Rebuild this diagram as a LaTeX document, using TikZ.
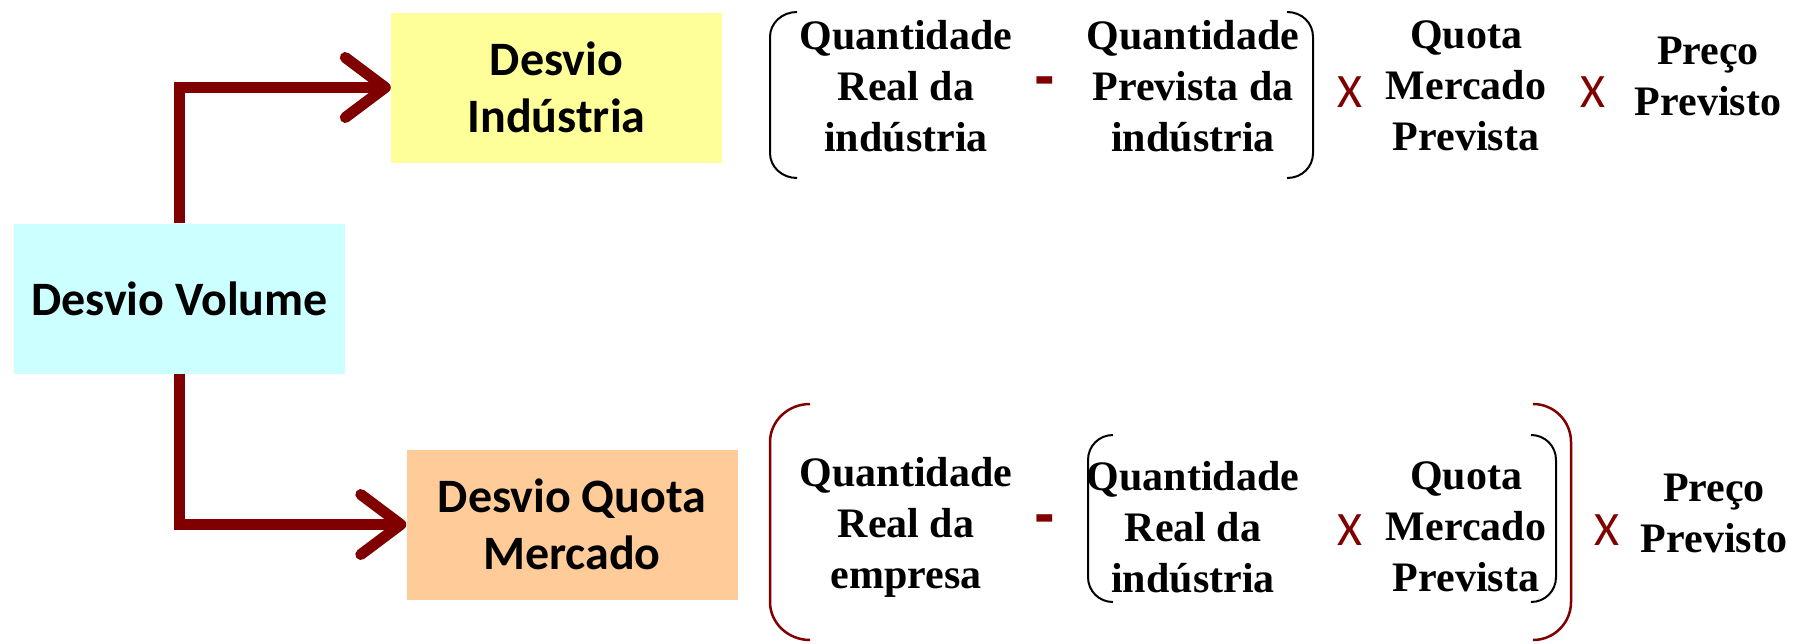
\documentclass[tikz,border=0pt]{standalone}
\usepackage{fontspec}
\setmainfont{Liberation Serif}
\newfontfamily\calfont{Carlito}
\newfontfamily\arialfont{Liberation Sans}
\usetikzlibrary{arrows.meta}
\definecolor{dred}{HTML}{800000}
\definecolor{cyanbox}{HTML}{CCFFFF}
\definecolor{yelbox}{HTML}{FFFF99}
\definecolor{orgbox}{HTML}{FFCC99}
\begin{document}
\begin{tikzpicture}[x=1pt,y=-1pt,
  box/.style={minimum width=331pt, minimum height=150pt, inner sep=0pt, align=center,
    font=\calfont\bfseries\fontsize{48}{57}\selectfont},
  conn/.style={draw=dred, line width=11pt, -{Straight Barb[length=40pt,width=60pt,round]}},
  term/.style={align=center, inner sep=0pt, font=\bfseries\fontsize{42}{51}\selectfont},
  op/.style={text=dred, inner sep=0pt, font=\calfont\fontsize{48}{48}\selectfont},
  minusop/.style={text=dred, inner sep=0pt, anchor=base, font=\arialfont\bfseries\fontsize{62}{62}\selectfont},
  brk/.style={line width=2pt},
  rbrk/.style={draw=dred, line width=2.5pt},
]
\useasboundingbox (0,0) rectangle (1803,643);
% boxes
\node[box, fill=cyanbox] (dv) at (179.5,298.5) {Desvio Volume};
\node[box, fill=yelbox] (di) at (556.5,87.5) {Desvio\\Indústria};
\node[box, fill=orgbox] (dq) at (572,524.5) {Desvio Quota\\Mercado};
% connectors
\draw[conn] (dv.north) |- (di.west);
\draw[conn] (dv.south) |- (dq.west);
% top formula
\node[term] (q1) at (906,86) {Quantidade\\Real da\\indústria};
\node[minusop] (m1) at (1045,96) {-};
\node[term] (q2) at (1193,86) {Quantidade\\Prevista da\\indústria};
\node[op] (x1) at (1350,92) {X};
\node[term] (qm1) at (1466,86) {Quota\\Mercado\\Prevista};
\node[op] (x2) at (1593,92) {X};
\node[term] (p1) at (1708,76) {Preço\\Previsto};
\draw[brk] (797,12) .. controls (782,12) and (770,23) .. (770,37) -- (770,153) .. controls (770,167) and (782,178) .. (797,178);
\draw[brk] (1287,12) .. controls (1302,12) and (1313,23) .. (1313,37) -- (1313,153) .. controls (1313,167) and (1302,178) .. (1287,178);
% bottom formula
\node[term] (q3) at (906,527) {Quantidade\\Real da\\empresa};
\node[minusop] (m2) at (1045,534) {-};
\node[term] (q4) at (1193,527) {Quantidade\\Real da\\indústria};
\node[op] (x3) at (1350,530) {X};
\node[term] (qm2) at (1466,527) {Quota\\Mercado\\Prevista};
\node[op] (x4) at (1607,530) {X};
\node[term] (p2) at (1714,513) {Preço\\Previsto};
\draw[rbrk] (810,404) .. controls (788,404) and (770,421) .. (770,442) -- (770,602) .. controls (770,623) and (788,640) .. (810,640);
\draw[rbrk] (1533,404) .. controls (1554,404) and (1571,421) .. (1571,442) -- (1571,602) .. controls (1571,623) and (1554,640) .. (1533,640);
\draw[brk] (1113,435) .. controls (1099,435) and (1088,446) .. (1088,460) -- (1088,577) .. controls (1088,591) and (1099,602) .. (1113,602);
\draw[brk] (1531,435) .. controls (1545,435) and (1556,446) .. (1556,460) -- (1556,577) .. controls (1556,591) and (1545,602) .. (1531,602);
\end{tikzpicture}
\end{document}
